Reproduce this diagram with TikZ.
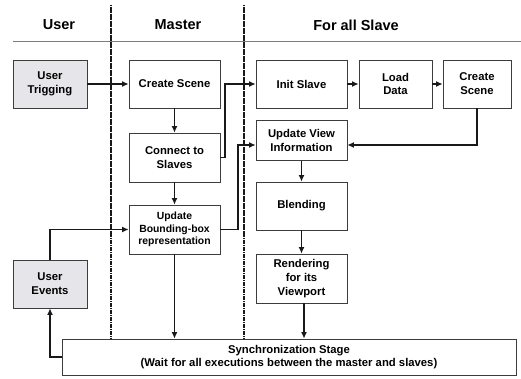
\documentclass[tikz,border=0pt]{standalone}
\usepackage{fontspec}
\setmainfont{Liberation Sans}
\definecolor{boxgray}{RGB}{230,230,234}
\definecolor{linedark}{RGB}{25,25,25}
\definecolor{rulegray}{RGB}{125,125,125}
\usetikzlibrary{arrows.meta,positioning,calc}

\begin{document}
\begin{tikzpicture}[x=1pt,y=-1pt,
  stagebox/.style={draw=linedark!85,line width=0.8pt,fill=white,align=center,inner sep=2pt,
    font=\fontsize{11.3}{13.8}\selectfont\bfseries},
  userbox/.style={stagebox,fill=boxgray},
  lanehead/.style={font=\fontsize{14.5}{16}\selectfont\bfseries},
  flow/.style={-{Latex[length=6.5pt,width=6pt]},line width=1.9pt,linedark},
  lane/.style={line width=1.4pt,linedark,dash pattern=on 1.4pt off 0.35pt}]
  \useasboundingbox (0,0) rectangle (521,379);
  % Lane headers
  \node[lanehead] (hUser) at (59,25) {User};
  \node[lanehead] (hMaster) at (178,25) {Master};
  \node[lanehead] (hSlave) at (356,25) {For all Slave};
  \draw[rulegray,line width=1pt] (13,42) -- (521,42);
  % Lane separators
  \draw[lane] (111,5) -- (111,339);
  \draw[lane] (244,5) -- (244,339);
  % User column
  \node[userbox,minimum width=74pt,minimum height=48pt] (utrig) at (50,84)
    {User\\Trigging};
  \node[userbox,minimum width=74pt,minimum height=48pt] (uevents) at (50,284)
    {User\\Events};
  % Master column
  \node[stagebox,minimum width=91pt,minimum height=48pt] (mscene) at (174.5,84)
    {Create Scene};
  \node[stagebox,minimum width=91pt,minimum height=49pt] (connect) at (174.5,157.5)
    {Connect to\\Slaves};
  \node[stagebox,minimum width=91pt,minimum height=49pt,
    font=\fontsize{10.4}{12.8}\selectfont\bfseries] (ubbox) at (174.5,229.5)
    {Update\\Bounding-box\\representation};
  % Slave column
  \node[stagebox,minimum width=91pt,minimum height=48pt] (init) at (301.5,84)
    {Init Slave};
  \node[stagebox,minimum width=73pt,minimum height=48pt] (load) at (395.5,84)
    {Load\\Data};
  \node[stagebox,minimum width=68pt,minimum height=48pt] (sscene) at (477,84)
    {Create\\Scene};
  \node[stagebox,minimum width=91pt,minimum height=40pt] (uview) at (301.5,140.5)
    {Update View\\Information};
  \node[stagebox,minimum width=91pt,minimum height=48pt] (blend) at (301.5,206)
    {Blending};
  \node[stagebox,minimum width=91pt,minimum height=49pt] (render) at (301.5,278.5)
    {Rendering\\for its\\Viewport};
  % Synchronization
  \node[stagebox,minimum width=454pt,minimum height=36pt,inner sep=1pt] (sync) at (289,357)
    {Synchronization Stage\\(Wait for all executions between the master and slaves)};
  % Arrows
  \draw[flow] (utrig) -- (mscene);
  \draw[flow] (mscene) -- (connect);
  \draw[flow] (connect) -- (ubbox);
  \draw[flow] (connect.east) -- ++(5,0) |- (init.west);
  \draw[flow] (init) -- (load);
  \draw[flow] (load) -- (sscene);
  \draw[flow] (ubbox.east) -- ++(18,0) |- ([yshift=-4.5pt]uview.west);
  \draw[flow] (sscene.south) |- ([yshift=-4.5pt]uview.east);
  \draw[flow] (uview) -- (blend);
  \draw[flow] (blend) -- (render);
  \draw[flow] ([xshift=2.5pt]render.south) -- ([xshift=2.5pt]render.south |- sync.north);
  \draw[flow] (ubbox) -- (ubbox |- sync.north);
  \draw[flow] (sync.west) -| (uevents.south);
  \draw[flow] (uevents.north) |- (ubbox.west);
\end{tikzpicture}
\end{document}
